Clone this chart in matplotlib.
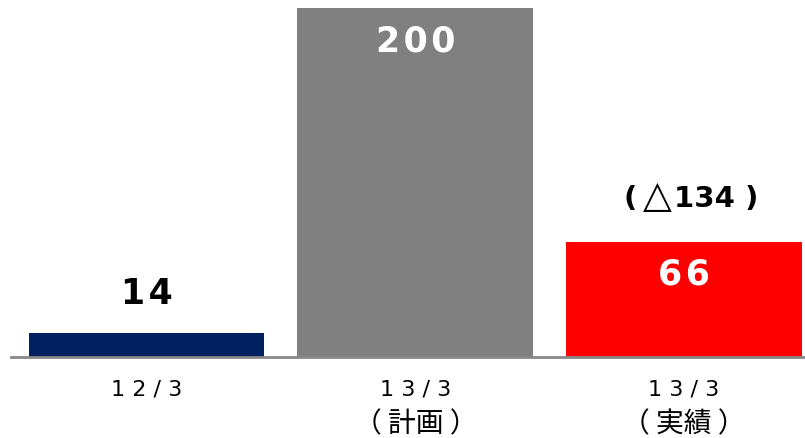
import numpy as np
import matplotlib.pyplot as plt

plt.rcParams['font.family'] = ['DejaVu Sans', 'Noto Sans CJK JP']

periods = ['12/3', '13/3', '13/3']
notes = ['', '（ 計画 ）', '（ 実績 ）']
values = [14, 200, 66]
colors = ['#002060', '#808080', '#FF0000']
diff_value = 134

fig = plt.figure(figsize=(8.05, 4.38), dpi=100)
ax = fig.add_axes([11/805, 81/438, 794/805, 349/438])

x = np.arange(len(values))
ax.bar(x, values, width=0.877, color=colors, zorder=2)

ax.set_xlim(-0.504, 2.45)
ax.set_ylim(0, 200)


def spaced(s, sep=' '):
    return sep.join(s)


# value labels: above the small bar, inside the tall ones
big = dict(ha='center', va='center', fontsize=25, fontweight='bold')
ax.text(x[0], values[0] + 22, spaced(str(values[0]), '\u200a'), color='black', **big)
ax.text(x[1], values[1] - 19, spaced(str(values[1]), '\u200a'), color='white', **big)
ax.text(x[2], values[2] - 19, spaced(str(values[2]), '\u200a'), color='white', **big)

# change vs plan, written in three pieces so the triangle can be larger
ybase = values[2] + 20
ax.text(x[2] - 0.175, ybase, '(', ha='right', va='baseline', fontsize=21,
        fontweight='bold', color='black')
ax.text(x[2] - 0.098, ybase, '△', ha='center', va='baseline', fontsize=27,
        fontweight='bold', color='black')
ax.text(x[2] - 0.038, ybase, '%d )' % diff_value, ha='left', va='baseline',
        fontsize=21, fontweight='bold', color='black')

# category labels under the axis, second line in Japanese
tr = ax.get_xaxis_transform()
for xi, p, n in zip(x, periods, notes):
    ax.text(xi, -0.094, spaced(p), transform=tr, ha='center', va='center',
            fontsize=16, color='black')
    if n:
        ax.text(xi, -0.192, n, transform=tr, ha='center', va='center',
                fontsize=20, color='black', family=['Noto Sans CJK JP'])

ax.set_xticks([])
ax.set_yticks([])

for s in ['top', 'right', 'left']:
    ax.spines[s].set_visible(False)
ax.spines['bottom'].set_color('#888888')
ax.spines['bottom'].set_linewidth(2)
ax.spines['bottom'].set_zorder(3)

fig.savefig('out.png', dpi=100)
